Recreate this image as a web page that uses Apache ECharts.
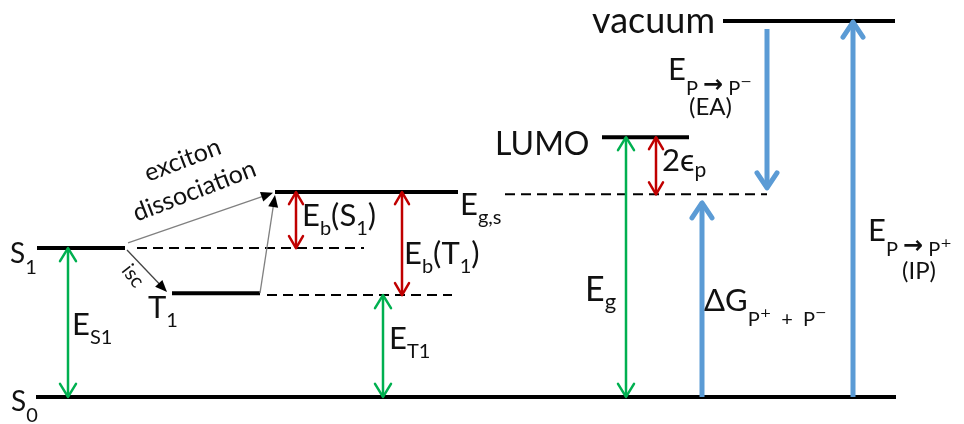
<!DOCTYPE html>
<html><head><meta charset="utf-8">
<script src="https://cdn.jsdelivr.net/npm/echarts@6/dist/echarts.min.js"></script>
<style>html,body{margin:0;padding:0;background:#fff}#c{width:964px;height:424px}</style>
</head><body><div id="c"></div>
<script>
// ---- data: energy levels (arbitrary energy units, S0 = 0, vacuum = 10) ----
const levelNames  = ['S0', 'S1', 'T1', 'Eg,s', 'LUMO', 'vacuum'];
const levelEnergy = [0, 3.96, 2.76, 5.45, 6.91, 10.0];
const levelFrom   = [36, 37, 172, 275, 602, 723];
const levelTo     = [896, 125, 260, 458, 689, 895];

// dashed reference levels
const refNames  = ['S1 ref', 'T1 ref', 'P+ + P-'];
const refEnergy = [3.96, 2.71, 5.39];
const refFrom   = [137, 267, 505];
const refTo     = [364, 452, 767];

// green (optical gaps) double arrows
const greenNames = ['ES1', 'ET1', 'Eg'];
const greenX     = [68, 383, 626];
const greenLow   = [0, 0, 0];
const greenHigh  = [3.96, 2.71, 6.91];

// red (binding energies) double arrows
const redNames = ['Eb(S1)', 'Eb(T1)', '2ep'];
const redX     = [296, 402, 656];
const redLow   = [3.96, 2.71, 5.39];
const redHigh  = [5.45, 5.45, 6.91];

// blue single arrows
const blueNames = ['EA', 'dG', 'IP'];
const blueX     = [767, 702, 853];
const blueFrom  = [9.79, 0, 0];
const blueTo    = [5.56, 5.16, 9.97];

// grey transition arrows
const transNames = ['exciton dissociation', 'isc', 'T1 dissociation'];
const transX1 = [128, 127, 260];
const transE1 = [4.10, 3.91, 2.76];
const transX2 = [273, 167, 275];
const transE2 = [5.43, 2.79, 5.37];

// labels
const labelTexts = [
  '{ms|S}{s|1}', '{ms|S}{s|0}', '{m|T}{s|1}', '{m|E}{s|S1}', '{m|E}{s|T1}',
  '{m|E}{s|b}{m|(S}{s|1}{m|)}', '{m|E}{s|b}{m|(T}{s|1}{m|)}', '{m|E}{s|g,s}',
  '{m|E}{sl|P }{sa|→}{sl| P}{su|⁻}', '{p|(EA)}', '{L|LUMO}', '{m|2ϵ}{s2|p}', '{mb|E}{sb|g}',
  '{m|ΔG}{sl|P}{su|⁺}{sl|\u2002+\u2002P}{su|⁻}', '{m|E}{sl|P }{sa|→}{sl| P}{su|⁺}', '{p|(IP)}', '{V|vacuum}',
  '{r|isc}', '{r2|exciton}\n{r2|dissociation}'
];
const labelX = [10, 11, 148, 72, 389, 302, 404, 460, 668, 689, 495, 662, 585, 704, 868, 902, 592, 133, 188.5];
const labelE = [3.51, -0.43, 2.05, 1.60, 1.22, 4.49, 3.48, 4.79, 8.38, 7.45, 6.38, 5.96, 2.50, 2.23, 4.10, 3.09, 9.63, 3.22, 5.89];
const labelRot = [0,0,0,0,0,0,0,0,0,0,0,0,0,0,0,0,0,-52,21];

// ---- styles ----
const FF = 'Lato, "Noto Sans", "DejaVu Sans", sans-serif';
const INK = '#111111';
const mainSizes = {m: 31, ms: 28, mb: 34, L: 32, V: 36, p: 24};
function mainTok(size) { return {fontSize: size, lineHeight: size, verticalAlign: 'top', fontFamily: FF, fill: INK}; }
function subTok(size, mainSize, drop) {
  return {fontSize: size, lineHeight: 0.887 * mainSize + drop + 0.113 * size, verticalAlign: 'bottom', fontFamily: FF, fill: INK};
}
const slTok = subTok(20, 31, 14);
const rich = {
  m: mainTok(31), ms: mainTok(28), mb: mainTok(34), L: mainTok(32), V: mainTok(36), p: mainTok(24),
  s: subTok(20, 31, 8),
  sb: subTok(22, 34, 7),
  sl: slTok,
  sa: Object.assign({}, slTok, {fontFamily: '"DejaVu Sans", sans-serif', fontWeight: 'bold', fontSize: 24}),
  su: Object.assign({}, slTok, {fontFamily: '"DejaVu Sans", sans-serif', fontSize: 22}),
  s2: subTok(21, 31, 5),
  r: {fontSize: 20, lineHeight: 22, fontFamily: FF, fill: INK},
  r2: {fontSize: 25, lineHeight: 33, fontFamily: FF, fill: INK}
};

function chevron(tip, from, L, W) {
  const dx = tip[0] - from[0], dy = tip[1] - from[1];
  const len = Math.hypot(dx, dy), ux = dx / len, uy = dy / len;
  const bx = tip[0] - ux * L, by = tip[1] - uy * L;
  return [[bx - uy * W, by + ux * W], tip, [bx + uy * W, by - ux * W]];
}

function levelSeries(from, to, energy, dashed) {
  return {
    type: 'custom', coordinateSystem: 'cartesian2d', silent: true,
    data: energy.map((e, i) => [from[i], to[i], e]),
    renderItem: (params, api) => {
      const p1 = api.coord([api.value(0), api.value(2)]);
      const p2 = api.coord([api.value(1), api.value(2)]);
      return {type: 'line', shape: {x1: p1[0], y1: p1[1], x2: p2[0], y2: p2[1]},
        style: dashed ? {stroke: '#000', lineWidth: 2, lineDash: [10, 6]} : {stroke: '#000', lineWidth: 4}};
    }
  };
}

function arrowSeries(xs, a, b, color, lw, L, W, both) {
  return {
    type: 'custom', coordinateSystem: 'cartesian2d', silent: true,
    data: xs.map((x, i) => [x, a[i], b[i]]),
    renderItem: (params, api) => {
      const p1 = api.coord([api.value(0), api.value(1)]);
      const p2 = api.coord([api.value(0), api.value(2)]);
      const st = {stroke: color, lineWidth: lw, fill: 'none', lineCap: 'round', lineJoin: 'round'};
      const ch = [{type: 'line', shape: {x1: p1[0], y1: p1[1], x2: p2[0], y2: p2[1]}, style: Object.assign({}, st, {lineCap: 'butt'})}];
      ch.push({type: 'polyline', shape: {points: chevron(p2, p1, L, W)}, style: st});
      if (both) ch.push({type: 'polyline', shape: {points: chevron(p1, p2, L, W)}, style: st});
      return {type: 'group', children: ch};
    }
  };
}

const transSeries = {
  type: 'custom', coordinateSystem: 'cartesian2d', silent: true,
  data: transX1.map((x, i) => [x, transE1[i], transX2[i], transE2[i]]),
  renderItem: (params, api) => {
    const p1 = api.coord([api.value(0), api.value(1)]);
    const p2 = api.coord([api.value(2), api.value(3)]);
    const L = 12, W = 5;
    const dx = p2[0] - p1[0], dy = p2[1] - p1[1], len = Math.hypot(dx, dy);
    const ux = dx / len, uy = dy / len;
    const bx = p2[0] - ux * L, by = p2[1] - uy * L;
    return {type: 'group', children: [
      {type: 'line', shape: {x1: p1[0], y1: p1[1], x2: bx + ux * 2, y2: by + uy * 2},
        style: {stroke: params.dataIndex === 1 ? '#444' : '#808080', lineWidth: 1.3}},
      {type: 'polygon', shape: {points: [p2, [bx - uy * W, by + ux * W], [bx + uy * W, by - ux * W]]},
        style: {fill: '#000', stroke: 'none'}}
    ]};
  }
};

const labelSeries = {
  type: 'custom', coordinateSystem: 'cartesian2d', silent: true,
  data: labelX.map((x, i) => [x, labelE[i]]),
  renderItem: (params, api) => {
    const i = params.dataIndex;
    const p = api.coord([api.value(0), api.value(1)]);
    const txt = labelTexts[i];
    const rot = labelRot[i];
    if (rot) {
      return {type: 'text', x: p[0], y: p[1], rotation: rot * Math.PI / 180,
        style: {text: txt, rich: rich, align: 'center', verticalAlign: 'middle', fontFamily: FF, fill: INK}};
    }
    const key = txt.match(/^\{(\w+)\|/)[1];
    const off = 0.887 * mainSizes[key];
    return {type: 'text', x: p[0], y: p[1] - off,
      style: {text: txt, rich: rich, align: 'left', verticalAlign: 'top', fontFamily: FF, fill: INK}};
  }
};

const chart = echarts.init(document.getElementById('c'), null, {renderer: 'canvas'});
chart.setOption({
  animation: false,
  backgroundColor: '#ffffff',
  grid: {left: 0, right: 0, top: 0, bottom: 0},
  xAxis: {type: 'value', min: 0, max: 964, show: false},
  yAxis: {type: 'value', min: -0.72, max: 10.56, show: false},
  series: [
    levelSeries(refFrom, refTo, refEnergy, true),
    levelSeries(levelFrom, levelTo, levelEnergy, false),
    transSeries,
    arrowSeries(greenX, greenLow, greenHigh, '#00b050', 2.5, 13, 8, true),
    arrowSeries(redX, redLow, redHigh, '#c00000', 2.5, 12, 7, true),
    arrowSeries(blueX, blueFrom, blueTo, '#5b9bd5', 5, 15, 10, false),
    labelSeries
  ]
});
</script></body></html>
